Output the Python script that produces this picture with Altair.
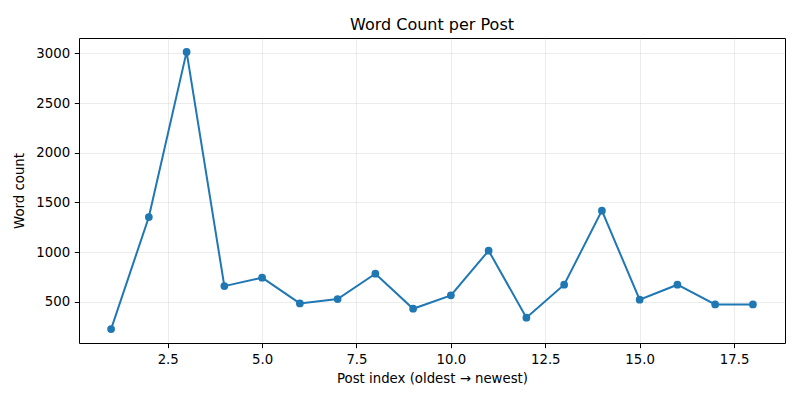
import altair as alt
import pandas as pd

post_index = list(range(1, 19))
word_count = [224, 1353, 3016, 657, 742, 483, 527, 782, 429, 564, 1014, 339, 671, 1417, 520, 671, 473, 473]
x_ticks = [2.5, 5.0, 7.5, 10.0, 12.5, 15.0, 17.5]
y_ticks = [500, 1000, 1500, 2000, 2500, 3000]

df = pd.DataFrame({"post": post_index, "words": word_count})

FONT = "DejaVu Sans"
BLUE = "#1f77b4"

x_enc = alt.X(
    "post:Q",
    scale=alt.Scale(domain=[0.15, 18.85], nice=False, zero=False),
    axis=alt.Axis(
        values=x_ticks, format=".1f", title="Post index (oldest → newest)",
        grid=True, labelFlush=False,
    ),
)
y_enc = alt.Y(
    "words:Q",
    scale=alt.Scale(domain=[84, 3156], nice=False, zero=False),
    axis=alt.Axis(values=y_ticks, format="d", title="Word count", grid=True),
)

base = alt.Chart(df).encode(x=x_enc, y=y_enc)
line = base.mark_line(color=BLUE, strokeWidth=2)
pts = base.mark_circle(color=BLUE, size=60, opacity=1)

chart = (
    alt.layer(line, pts)
    .properties(
        width=706,
        height=305,
        title=alt.TitleParams(
            "Word Count per Post", fontSize=16, font=FONT, fontWeight="normal",
            color="black", anchor="middle", offset=5, baseline="bottom", dy=16,
        ),
        autosize=alt.AutoSizeParams(type="none"),
        padding={"left": 71, "top": 30, "right": 7, "bottom": 50},
    )
    .configure_view(stroke="black", strokeWidth=1)
    .configure_axis(
        domain=False,
        labelFont=FONT, titleFont=FONT,
        labelFontSize=13.3, titleFontSize=13.3,
        labelColor="black", titleColor="black",
        titleFontWeight="normal",
        tickColor="black", tickSize=4.7, tickWidth=1,
        labelPadding=4.7,
        gridColor="#b0b0b0", gridOpacity=0.3, gridWidth=0.8,
    )
    .configure_axisX(titlePadding=6, labelBaseline="top")
    .configure_axisY(titlePadding=9)
)

chart.save("out.html", embed_options={"renderer": "svg", "actions": False})
